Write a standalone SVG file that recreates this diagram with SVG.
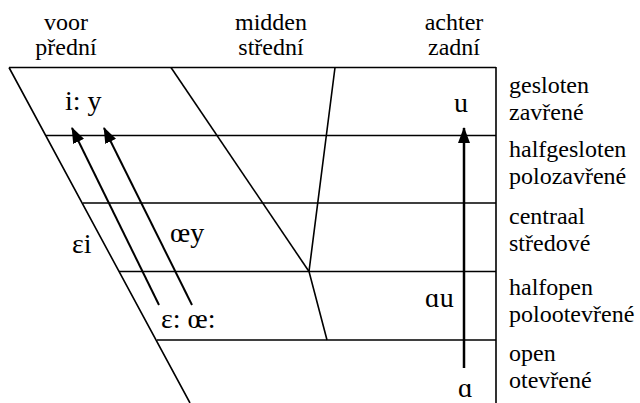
<svg xmlns="http://www.w3.org/2000/svg" width="640" height="403" viewBox="0 0 640 403" font-family="Liberation Serif, Times New Roman, DejaVu Serif, serif">
<defs>
<style>
.ln{stroke:#000;stroke-width:1.6;fill:none}
.ar{stroke:#000;stroke-width:2;fill:none;marker-end:url(#ah)}
.lb{font-size:24px}
.mid{text-anchor:middle}
.v{font-size:28px}
</style>
<marker id="ah" markerUnits="userSpaceOnUse" markerWidth="16" markerHeight="12" refX="15" refY="6" orient="auto">
<path d="M0,0 L16,6 L0,12 z" fill="#000"/>
</marker>
</defs>
<rect width="640" height="403" fill="#fff"/>
<g id="chart">
<path class="ln" d="M9,67.5 L496,67.5 M496,67 L496,403 M9,67.5 L190,403"/>
<path class="ln" d="M46,135.5 L496,135.5 M83,203 L496,203 M119,271.5 L496,271.5 M157,340 L496,340"/>
<path class="ln" d="M171,67.5 L309,271.5"/>
<path class="ln" d="M335,67.5 L309,271.5 L327,340"/>
</g>
<g id="connectors">
<line id="arrow-ei" class="ar" x1="159" y1="305" x2="72" y2="128"/>
<line id="arrow-oey" class="ar" x1="192" y1="305" x2="104" y2="128"/>
<line id="arrow-au" class="ar" x1="464" y1="368" x2="464" y2="128" style="stroke-width:2.5"/>
</g>
<g id="col-front"><text class="lb mid" x="66" y="30">voor</text><text class="lb mid" x="66" y="55">přední</text></g>
<g id="col-mid"><text class="lb mid" x="271" y="30">midden</text><text class="lb mid" x="271" y="55">střední</text></g>
<g id="col-back"><text class="lb mid" x="454" y="30">achter</text><text class="lb mid" x="454" y="55">zadní</text></g>
<g id="row-close"><text class="lb" x="509" y="93">gesloten</text><text class="lb" x="509" y="120">zavřené</text></g>
<g id="row-closemid"><text class="lb" x="509" y="157">halfgesloten</text><text class="lb" x="509" y="184">polozavřené</text></g>
<g id="row-central"><text class="lb" x="509" y="224">centraal</text><text class="lb" x="509" y="251">středové</text></g>
<g id="row-openmid"><text class="lb" x="509" y="295">halfopen</text><text class="lb" x="509" y="322">polootevřené</text></g>
<g id="row-open"><text class="lb" x="509" y="361">open</text><text class="lb" x="509" y="388">otevřené</text></g>
<g id="v-iy"><text class="v" x="65" y="110">i: y</text></g>
<g id="v-u"><text class="v" x="454" y="112">u</text></g>
<g id="v-oey"><text class="v" x="170" y="242">œy</text></g>
<g id="v-ei"><text class="v" x="72" y="253">εi</text></g>
<g id="v-long"><text class="v" x="161" y="328">ε: œ:</text></g>
<g id="v-au"><text class="v" x="425" y="307">ɑu</text></g>
<g id="v-a"><text class="v" x="458" y="397">ɑ</text></g>
</svg>
